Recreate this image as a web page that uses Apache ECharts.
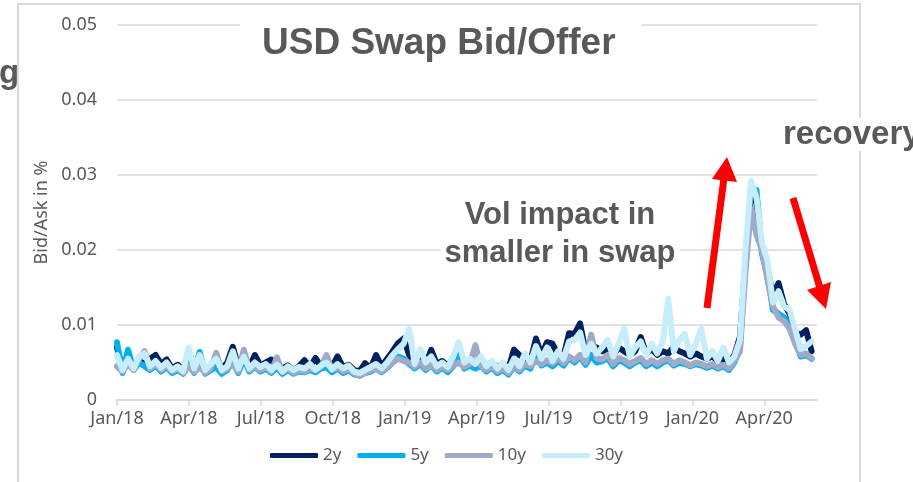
<!DOCTYPE html>
<html>
<head>
<meta charset="utf-8">
<script src="https://cdn.jsdelivr.net/npm/echarts@6/dist/echarts.min.js"></script>
<style>
html, body { margin: 0; padding: 0; background: #fff; }
#chart { width: 913px; height: 482px; }
</style>
</head>
<body>
<div id="chart"></div>
<script>
// quarterly tick labels, one every 3 months from Jan/18
const tickLabels = ['Jan/18', 'Apr/18', 'Jul/18', 'Oct/18', 'Jan/19', 'Apr/19', 'Jul/19', 'Oct/19', 'Jan/20', 'Apr/20']
const seriesNames = ['2y', '5y', '10y', '30y']
const colors = ['#002060', '#00b0f0', '#9eaac6', '#c6edf9']

// weekly bid/ask (in %), first week = Jan 2018
const bidAsk2y = [
  0.0070, 0.0042, 0.0050, 0.0045, 0.0052, 0.0048, 0.0055, 0.0060, 0.0048, 0.0054,
  0.0042, 0.0047, 0.0040, 0.0052, 0.0044, 0.0050, 0.0040, 0.0046, 0.0048, 0.0042,
  0.0050, 0.0071, 0.0045, 0.0050, 0.0044, 0.0060, 0.0046, 0.0050, 0.0054, 0.0045,
  0.0042, 0.0046, 0.0040, 0.0045, 0.0053, 0.0044, 0.0056, 0.0045, 0.0050, 0.0044,
  0.0058, 0.0044, 0.0047, 0.0040, 0.0038, 0.0049, 0.0042, 0.0060, 0.0045, 0.0055,
  0.0065, 0.0076, 0.0082, 0.0060, 0.0050, 0.0055, 0.0048, 0.0067, 0.0048, 0.0052,
  0.0046, 0.0055, 0.0058, 0.0052, 0.0050, 0.0050, 0.0055, 0.0046, 0.0050, 0.0044,
  0.0048, 0.0042, 0.0067, 0.0060, 0.0055, 0.0052, 0.0082, 0.0060, 0.0077, 0.0075,
  0.0060, 0.0058, 0.0089, 0.0088, 0.0102, 0.0065, 0.0072, 0.0070, 0.0065, 0.0068,
  0.0060, 0.0070, 0.0065, 0.0060, 0.0065, 0.0084, 0.0062, 0.0068, 0.0060, 0.0065,
  0.0062, 0.0071, 0.0065, 0.0062, 0.0058, 0.0062, 0.0058, 0.0055, 0.0058, 0.0052,
  0.0055, 0.0050, 0.0060, 0.0084, 0.0180, 0.0270, 0.0265, 0.0200, 0.0175, 0.0140,
  0.0156, 0.0128, 0.0115, 0.0090, 0.0087, 0.0093, 0.0065
]
const bidAsk5y = [
  0.0077, 0.0036, 0.0067, 0.0040, 0.0050, 0.0045, 0.0040, 0.0046, 0.0038, 0.0044,
  0.0036, 0.0040, 0.0035, 0.0048, 0.0036, 0.0064, 0.0035, 0.0040, 0.0044, 0.0035,
  0.0040, 0.0052, 0.0036, 0.0055, 0.0038, 0.0044, 0.0038, 0.0042, 0.0036, 0.0044,
  0.0035, 0.0040, 0.0035, 0.0038, 0.0037, 0.0040, 0.0037, 0.0042, 0.0044, 0.0037,
  0.0042, 0.0036, 0.0040, 0.0034, 0.0033, 0.0036, 0.0038, 0.0042, 0.0037, 0.0043,
  0.0050, 0.0058, 0.0055, 0.0048, 0.0042, 0.0048, 0.0040, 0.0046, 0.0038, 0.0043,
  0.0037, 0.0045, 0.0065, 0.0042, 0.0046, 0.0042, 0.0046, 0.0038, 0.0043, 0.0036,
  0.0040, 0.0034, 0.0044, 0.0038, 0.0046, 0.0042, 0.0062, 0.0046, 0.0050, 0.0045,
  0.0052, 0.0046, 0.0056, 0.0050, 0.0058, 0.0047, 0.0060, 0.0050, 0.0052, 0.0056,
  0.0045, 0.0053, 0.0050, 0.0045, 0.0050, 0.0053, 0.0045, 0.0050, 0.0045, 0.0050,
  0.0053, 0.0046, 0.0050, 0.0048, 0.0045, 0.0048, 0.0046, 0.0043, 0.0046, 0.0042,
  0.0045, 0.0040, 0.0050, 0.0070, 0.0185, 0.0280, 0.0280, 0.0195, 0.0165, 0.0120,
  0.0115, 0.0110, 0.0100, 0.0080, 0.0058, 0.0060, 0.0055
]
const bidAsk10y = [
  0.0045, 0.0038, 0.0048, 0.0040, 0.0055, 0.0065, 0.0042, 0.0048, 0.0040, 0.0046,
  0.0038, 0.0042, 0.0036, 0.0045, 0.0037, 0.0044, 0.0036, 0.0042, 0.0063, 0.0038,
  0.0042, 0.0048, 0.0038, 0.0067, 0.0040, 0.0045, 0.0040, 0.0044, 0.0038, 0.0057,
  0.0037, 0.0042, 0.0036, 0.0040, 0.0038, 0.0042, 0.0040, 0.0044, 0.0060, 0.0040,
  0.0044, 0.0038, 0.0042, 0.0035, 0.0032, 0.0036, 0.0040, 0.0042, 0.0038, 0.0044,
  0.0050, 0.0055, 0.0052, 0.0050, 0.0044, 0.0050, 0.0042, 0.0046, 0.0040, 0.0045,
  0.0040, 0.0046, 0.0050, 0.0044, 0.0048, 0.0073, 0.0046, 0.0040, 0.0045, 0.0038,
  0.0042, 0.0036, 0.0045, 0.0040, 0.0048, 0.0045, 0.0052, 0.0048, 0.0053, 0.0049,
  0.0056, 0.0049, 0.0058, 0.0053, 0.0060, 0.0050, 0.0087, 0.0056, 0.0054, 0.0060,
  0.0048, 0.0056, 0.0053, 0.0048, 0.0052, 0.0056, 0.0048, 0.0053, 0.0048, 0.0053,
  0.0055, 0.0048, 0.0053, 0.0050, 0.0046, 0.0050, 0.0048, 0.0045, 0.0048, 0.0044,
  0.0047, 0.0042, 0.0052, 0.0065, 0.0170, 0.0255, 0.0220, 0.0200, 0.0160, 0.0125,
  0.0110, 0.0105, 0.0095, 0.0075, 0.0060, 0.0062, 0.0056
]
const bidAsk30y = [
  0.0060, 0.0040, 0.0055, 0.0042, 0.0058, 0.0062, 0.0045, 0.0052, 0.0043, 0.0050,
  0.0040, 0.0045, 0.0038, 0.0070, 0.0042, 0.0060, 0.0040, 0.0048, 0.0055, 0.0040,
  0.0045, 0.0065, 0.0042, 0.0058, 0.0042, 0.0050, 0.0044, 0.0048, 0.0040, 0.0047,
  0.0038, 0.0045, 0.0040, 0.0044, 0.0042, 0.0048, 0.0040, 0.0046, 0.0050, 0.0041,
  0.0048, 0.0042, 0.0046, 0.0038, 0.0036, 0.0040, 0.0044, 0.0048, 0.0042, 0.0050,
  0.0060, 0.0068, 0.0075, 0.0095, 0.0048, 0.0068, 0.0050, 0.0058, 0.0045, 0.0050,
  0.0044, 0.0058, 0.0077, 0.0050, 0.0055, 0.0048, 0.0058, 0.0045, 0.0052, 0.0042,
  0.0050, 0.0040, 0.0055, 0.0045, 0.0062, 0.0050, 0.0072, 0.0055, 0.0070, 0.0052,
  0.0065, 0.0055, 0.0078, 0.0080, 0.0090, 0.0060, 0.0075, 0.0062, 0.0070, 0.0080,
  0.0058, 0.0075, 0.0095, 0.0058, 0.0070, 0.0078, 0.0060, 0.0075, 0.0062, 0.0078,
  0.0135, 0.0065, 0.0080, 0.0088, 0.0060, 0.0075, 0.0095, 0.0055, 0.0065, 0.0052,
  0.0070, 0.0050, 0.0058, 0.0080, 0.0200, 0.0292, 0.0270, 0.0210, 0.0185, 0.0130,
  0.0145, 0.0125, 0.0120, 0.0095, 0.0068, 0.0072, 0.0078
]

const allSeries = [bidAsk2y, bidAsk5y, bidAsk10y, bidAsk30y]
// x is in months since Jan/18, one point per week
const toPoints = arr => arr.map((v, i) => [i * 7 / 30.44, v])
const tickValues = tickLabels.map((_, i) => i * 3)

const textGray = '#595959'
const gridGray = '#d9d9d9'

const option = {
  animation: false,
  backgroundColor: '#fff',
  title: {
    text: 'USD Swap Bid/Offer',
    left: 240,
    top: 15,
    padding: [10, 26, 10, 22],
    backgroundColor: '#fff',
    textStyle: {
      fontFamily: 'Liberation Sans',
      fontWeight: 'bold',
      fontSize: 37,
      color: textGray
    }
  },
  grid: {
    left: 117,
    right: 96,
    top: 25,
    bottom: 82
  },
  legend: {
    data: seriesNames,
    left: 265,
    top: 442,
    icon: 'roundRect',
    itemWidth: 48,
    itemHeight: 5,
    itemGap: 16,
    textStyle: {
      fontFamily: 'Noto Sans',
      fontSize: 17,
      color: textGray
    }
  },
  xAxis: {
    type: 'value',
    min: 0,
    max: 29.2,
    interval: 3,
    splitLine: { show: false },
    axisLine: { show: true, lineStyle: { color: gridGray, width: 2 } },
    axisTick: {
      show: true,
      length: 6,
      customValues: tickValues,
      lineStyle: { color: gridGray, width: 1.5 }
    },
    axisLabel: {
      customValues: tickValues,
      formatter: v => tickLabels[Math.round(v / 3)] || '',
      fontFamily: 'Noto Sans',
      fontSize: 18,
      color: textGray,
      margin: 10
    }
  },
  yAxis: {
    type: 'value',
    min: 0,
    max: 0.05,
    interval: 0.01,
    name: 'Bid/Ask in %',
    nameLocation: 'middle',
    nameGap: 66,
    nameTextStyle: {
      fontFamily: 'Noto Sans',
      fontSize: 18,
      color: textGray
    },
    axisLine: { show: false },
    axisTick: { show: false },
    splitLine: { lineStyle: { color: gridGray, width: 1.5 } },
    axisLabel: {
      formatter: v => (v === 0 ? '0' : v.toFixed(2)),
      fontFamily: 'Noto Sans',
      fontSize: 18,
      color: textGray,
      margin: 20
    }
  },
  series: seriesNames.map((name, k) => ({
    name: name,
    type: 'line',
    data: toPoints(allSeries[k]),
    showSymbol: false,
    color: colors[k],
    lineStyle: { width: 6, cap: 'round', join: 'round' }
  })),
  graphic: [
    {
      type: 'rect',
      z: 0,
      silent: true,
      shape: { x: 18, y: 4, width: 842, height: 520 },
      style: { fill: 'none', stroke: gridGray, lineWidth: 2 }
    },
    // red arrows
    {
      type: 'line',
      z: 50,
      shape: { x1: 707, y1: 308, x2: 724, y2: 178 },
      style: { stroke: '#ff0000', lineWidth: 7 }
    },
    {
      type: 'polygon',
      z: 50,
      shape: { points: [[727, 157], [737, 182], [712, 179]] },
      style: { fill: '#ff0000' }
    },
    {
      type: 'line',
      z: 50,
      shape: { x1: 793, y1: 198, x2: 820, y2: 288 },
      style: { stroke: '#ff0000', lineWidth: 7 }
    },
    {
      type: 'polygon',
      z: 50,
      shape: { points: [[826, 309], [831, 282], [807, 290]] },
      style: { fill: '#ff0000' }
    },
    {
      type: 'text',
      z: 60,
      style: {
        text: 'Vol impact in\nsmaller in swap',
        x: 560,
        y: 194,
        textAlign: 'center',
        textVerticalAlign: 'top',
        lineHeight: 38,
        fontFamily: 'Liberation Sans',
        fontWeight: 'bold',
        fontSize: 31,
        fill: textGray,
        backgroundColor: '#fff',
        padding: [2, 4]
      }
    },
    {
      type: 'text',
      z: 60,
      style: {
        text: 'recovery',
        x: 783,
        y: 118,
        textVerticalAlign: 'top',
        fontFamily: 'Liberation Sans',
        fontWeight: 'bold',
        fontSize: 33,
        fill: textGray,
        backgroundColor: '#fff'
      }
    },
    {
      type: 'text',
      z: 60,
      style: {
        text: 'g',
        x: -1,
        y: 57,
        textVerticalAlign: 'top',
        fontFamily: 'Liberation Sans',
        fontWeight: 'bold',
        fontSize: 33,
        fill: textGray
      }
    }
  ]
}

const chart = echarts.init(document.getElementById('chart'))
chart.setOption(option)
</script>
</body>
</html>
